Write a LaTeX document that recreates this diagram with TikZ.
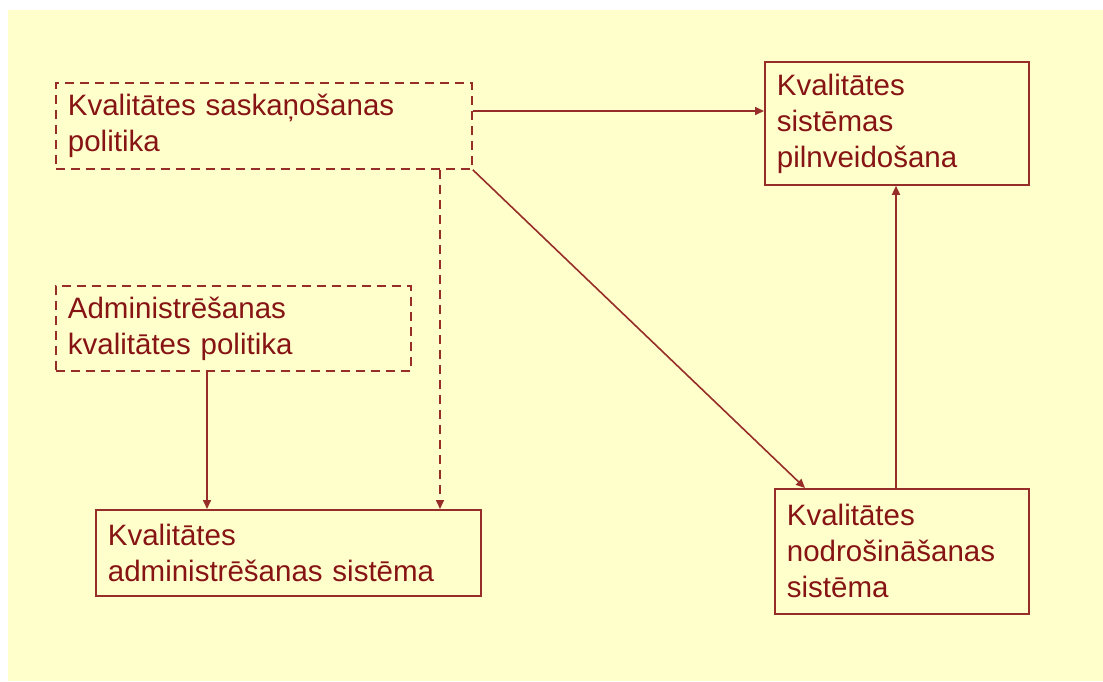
\documentclass[tikz,border=0pt]{standalone}
\usepackage{fontspec}
\setmainfont{Liberation Sans}
\usetikzlibrary{arrows.meta}
\definecolor{paper}{RGB}{255,255,204}
\definecolor{ink}{RGB}{150,45,40}
\definecolor{txt}{RGB}{135,20,20}
\begin{document}
\begin{tikzpicture}[x=1pt,y=-1pt,
  box/.style={draw=ink,line width=1.8pt,align=left,inner xsep=12pt,inner ysep=0pt,
    text=txt,font=\fontsize{29.5pt}{36pt}\selectfont,anchor=north west},
  dashbox/.style={box,dash pattern=on 9pt off 6pt},
  link/.style={draw=ink,line width=1.6pt,-{Triangle[length=9pt,width=8pt]}},
  dashlink/.style={link,dash pattern=on 9pt off 6pt}]
  \useasboundingbox (0,0) rectangle (1103,681);
  \fill[white] (0,0) rectangle (1103,681);
  \fill[paper] (8,10) rectangle (1103,681);

  % boxes (top-left corner, width and height in pixels)
  \node[dashbox,text width=392pt,minimum height=86pt] (A) at (55,82)
    {Kvalitātes saskaņošanas\\politika};
  \node[box,text width=240pt,minimum height=123pt] (B) at (764,61)
    {Kvalitātes\\sistēmas\\pilnveidošana};
  \node[dashbox,text width=331pt,minimum height=85pt] (C) at (55,285)
    {Administrēšanas\\kvalitātes politika};
  \node[box,text width=361pt,minimum height=86pt] (D) at (95,509)
    {Kvalitātes\\administrēšanas sistēma};
  \node[box,text width=230pt,minimum height=125pt] (E) at (774,488)
    {Kvalitātes\\nodrošināšanas\\sistēma};

  % vertical guide positions of the connectors
  \coordinate (xd) at (440,0);
  \coordinate (xc) at (207,0);
  \coordinate (xe) at (896,0);
  \coordinate (ya) at (0,111);
  \coordinate (te) at (805,488);

  \draw[link] (A.east |- ya) -- (B.west |- ya);
  \draw[link] (A.south east) -- (te);
  \draw[dashlink] (A.south -| xd) -- (D.north -| xd);
  \draw[link] (C.south -| xc) -- (D.north -| xc);
  \draw[link] (E.north -| xe) -- (B.south -| xe);
\end{tikzpicture}
\end{document}
